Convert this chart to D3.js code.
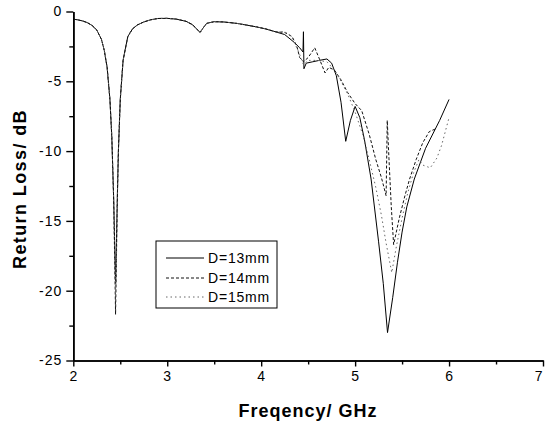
<!DOCTYPE html>
<html>
<head>
<meta charset="utf-8">
<script src="https://cdn.jsdelivr.net/npm/d3@7"></script>
<style>
  html, body { margin: 0; padding: 0; background: #fff; }
  svg { display: block; font-family: "Liberation Sans", Arial, sans-serif; }
</style>
</head>
<body>
<svg id="chart" width="545" height="423"></svg>
<script>
// ---- data ----
const xTicks = [2, 3, 4, 5, 6, 7];
const xMinorTicks = [2.5, 3.5, 4.5, 5.5, 6.5];
const yTicks = [0, -5, -10, -15, -20, -25];
const yMinorTicks = [-2.5, -7.5, -12.5, -17.5, -22.5];
const seriesNames = ["D=13mm", "D=14mm", "D=15mm"];

// shared part of the three curves, below the first resonance
const freqPre = [2.00, 2.05, 2.10, 2.15, 2.20, 2.25, 2.30, 2.33, 2.36, 2.39, 2.41, 2.43];
const rlPre   = [-0.55, -0.6, -0.68, -0.8, -1.0, -1.33, -2.0, -2.8, -4.0, -6.3, -9.0, -13.5];
// shared part above the first resonance
const freqPost = [2.47, 2.48, 2.50, 2.53, 2.58, 2.63, 2.68, 2.75, 2.82, 2.90, 3.00, 3.10, 3.20, 3.27, 3.32, 3.35, 3.38, 3.42, 3.50, 3.60, 3.74, 3.84, 3.95, 4.05, 4.15];
const rlPost   = [-13.0, -10.0, -6.3, -3.5, -1.8, -1.25, -0.97, -0.75, -0.6, -0.5, -0.49, -0.55, -0.7, -0.95, -1.3, -1.5, -1.2, -0.85, -0.73, -0.75, -0.85, -0.97, -1.1, -1.25, -1.45];

// first-resonance minimum of each series
const freqMin = [2.45, 2.45, 2.45];
const rlMin   = [-19.5, -21.7, -20.2];

// D=13mm above 4.15 GHz
const freq13 = [4.25, 4.35, 4.41, 4.445, 4.45, 4.455, 4.48, 4.55, 4.62, 4.70, 4.75, 4.80, 4.85, 4.90, 4.95, 5.00, 5.05, 5.10, 5.17, 5.25, 5.30, 5.345, 5.40, 5.45, 5.50, 5.55, 5.63, 5.75, 5.90, 6.00];
const rl13   = [-1.65, -2.2, -2.6, -2.9, -1.45, -4.1, -3.7, -3.6, -3.5, -3.4, -3.7, -4.6, -6.5, -9.3, -7.8, -6.8, -7.6, -9.2, -12.0, -16.5, -19.5, -23.0, -20.5, -18.0, -15.8, -14.0, -12.0, -9.8, -7.8, -6.3];

// D=14mm above 4.15 GHz
const freq14 = [4.25, 4.33, 4.38, 4.41, 4.45, 4.50, 4.57, 4.62, 4.68, 4.72, 4.78, 4.85, 4.92, 5.00, 5.07, 5.15, 5.22, 5.28, 5.33, 5.342, 5.36, 5.385, 5.41, 5.47, 5.53, 5.58, 5.65, 5.72, 5.79, 5.86];
const rl14   = [-1.5, -1.8, -2.5, -3.3, -3.6, -3.3, -2.6, -3.4, -4.4, -4.0, -4.2, -4.9, -5.8, -6.6, -7.1, -8.8, -10.6, -11.9, -13.2, -7.8, -10.5, -14.0, -16.7, -14.8, -13.2, -12.0, -10.6, -9.4, -8.6, -8.4];

// D=15mm above 4.15 GHz
const freq15 = [4.25, 4.32, 4.40, 4.45, 4.50, 4.60, 4.70, 4.78, 4.85, 4.92, 5.00, 5.08, 5.15, 5.22, 5.28, 5.33, 5.39, 5.44, 5.50, 5.56, 5.62, 5.68, 5.72, 5.80, 5.87, 5.92, 6.00];
const rl15   = [-1.45, -1.75, -2.9, -3.8, -3.5, -3.5, -3.6, -4.2, -5.0, -5.9, -7.2, -8.8, -10.6, -12.6, -14.6, -16.6, -18.7, -16.8, -14.8, -13.0, -11.6, -10.6, -11.0, -11.2, -10.5, -9.6, -7.6];

const tails = [[freq13, rl13], [freq14, rl14], [freq15, rl15]];
const lineColors = ["#000", "#111", "#666"];
const lineDashes = [null, "3,2", "1.5,3"];

// build per-series point lists
const series = seriesNames.map((name, i) => {
  const f = freqPre.concat([freqMin[i]], freqPost, tails[i][0]);
  const v = rlPre.concat([rlMin[i]], rlPost, tails[i][1]);
  return { name, points: f.map((x, k) => ({ f: x, v: v[k] })) };
});

// ---- drawing ----
const svg = d3.select("#chart");
const x = d3.scaleLinear().domain([2, 7]).range([73.3, 543]);
const y = d3.scaleLinear().domain([-25, 0]).range([360.5, 11.5]);

const line = d3.line().x(d => x(d.f)).y(d => y(d.v));

series.forEach((s, i) => {
  svg.append("path")
    .datum(s.points)
    .attr("fill", "none")
    .attr("stroke", lineColors[i])
    .attr("stroke-width", 1)
    .attr("stroke-dasharray", lineDashes[i])
    .attr("stroke-linejoin", "round")
    .attr("d", line);
});

// axes
svg.append("g").attr("transform", `translate(0,${y(-25)})`)
  .call(d3.axisBottom(x).tickValues(xTicks).tickFormat(d3.format("d")).tickSize(6).tickSizeOuter(0).tickPadding(5));
svg.append("g").attr("transform", `translate(0,${y(-25)})`)
  .call(d3.axisBottom(x).tickValues(xMinorTicks).tickFormat("").tickSize(4).tickSizeOuter(0));
svg.append("g").attr("transform", `translate(${x(2)},0)`)
  .call(d3.axisLeft(y).tickValues(yTicks).tickFormat(d => d === 0 ? "0" : d3.format("d")(d).replace("−", "-")).tickSize(7).tickSizeOuter(0).tickPadding(4));
svg.append("g").attr("transform", `translate(${x(2)},0)`)
  .call(d3.axisLeft(y).tickValues(yMinorTicks).tickFormat("").tickSize(4).tickSizeOuter(0));

svg.selectAll(".domain").attr("stroke", "#000").attr("stroke-width", 1.6);
svg.selectAll(".tick line").attr("stroke", "#000").attr("stroke-width", 1.4);
svg.selectAll(".tick text")
  .attr("fill", "#000")
  .style("font-family", "'Liberation Sans', Arial, sans-serif")
  .style("font-size", "14px")
  .style("letter-spacing", "1px");
// keep the last x label inside the window
svg.selectAll(".tick text").filter(d => d === 7)
  .attr("text-anchor", "end").attr("dx", "-1px").style("letter-spacing", "0px");

// axis titles
svg.append("text")
  .attr("x", 308).attr("y", 417)
  .attr("text-anchor", "middle")
  .style("font-size", "18px").style("font-weight", "bold").style("letter-spacing", "1px")
  .text("Freqency/ GHz");
svg.append("text")
  .attr("transform", "translate(26,189) rotate(-90)")
  .attr("text-anchor", "middle")
  .style("font-size", "18px").style("font-weight", "bold").style("letter-spacing", "1.4px")
  .text("Return Loss/ dB");

// legend
const lg = svg.append("g");
lg.append("rect").attr("x", 156).attr("y", 241).attr("width", 121).attr("height", 67)
  .attr("fill", "#fff").attr("stroke", "#000").attr("stroke-width", 1);
const rowY = [258, 278, 297];
seriesNames.forEach((name, i) => {
  lg.append("line").attr("x1", 166).attr("x2", 204).attr("y1", rowY[i]).attr("y2", rowY[i])
    .attr("stroke", lineColors[i]).attr("stroke-width", 1).attr("stroke-dasharray", lineDashes[i]);
  lg.append("text").attr("x", 208).attr("y", rowY[i] + 5)
    .style("font-size", "14px").style("letter-spacing", "0.8px")
    .text(name);
});
</script>
</body>
</html>
